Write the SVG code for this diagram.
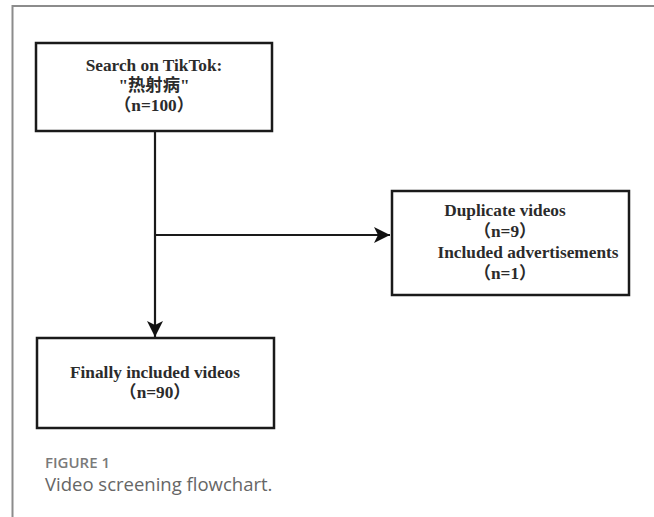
<svg xmlns="http://www.w3.org/2000/svg" width="654" height="517" viewBox="0 0 654 517">
<style>
.box{fill:#fff;stroke:#1a1a1a;stroke-width:2.5}
.t{font-family:"Liberation Serif","Noto Sans CJK SC",serif;font-weight:bold;font-size:17.3px;fill:#2b2b2b;text-anchor:middle}
.conn{stroke:#1a1a1a;stroke-width:2.2;fill:none}
.frame{stroke:#8c8c8c;stroke-width:2;fill:none}
</style>
<defs>
<marker id="ah" viewBox="0 0 16 16" refX="16" refY="8" markerWidth="16" markerHeight="16" markerUnits="userSpaceOnUse" orient="auto">
<path d="M0,0 L16,8 L0,16 L4,8 Z" fill="#111"/>
</marker>
</defs>
<rect width="654" height="517" fill="#fff"/>
<path class="frame" d="M12.5,517 V6 H654"/>
<g id="connectors">
<path class="conn" d="M155,131 V337" marker-end="url(#ah)"/>
<path class="conn" d="M155,235 H390" marker-end="url(#ah)"/>
</g>
<g id="search">
<rect class="box" x="36" y="43" width="236" height="88"/>
<text class="t" x="154" y="71">Search on TikTok:</text>
<text class="t" x="154" y="91">"热射病"</text>
<text class="t" x="154" y="111">（n=100）</text>
</g>
<g id="excluded">
<rect class="box" x="392" y="191" width="237" height="104"/>
<text class="t" x="505" y="216">Duplicate videos</text>
<text class="t" x="505" y="237">（n=9）</text>
<text class="t" x="528" y="258">Included advertisements</text>
<text class="t" x="505" y="279">（n=1）</text>
</g>
<g id="final">
<rect class="box" x="37" y="338" width="237" height="90"/>
<text class="t" x="155" y="378">Finally included videos</text>
<text class="t" x="155" y="398">（n=90）</text>
</g>
<g id="caption" font-family="'Open Sans','Noto Sans',sans-serif">
<text x="45" y="468" font-size="15" font-weight="600" fill="#7a7a7a">FIGURE 1</text>
<text x="45" y="491" font-size="18.5" fill="#666">Video screening flowchart.</text>
</g>
</svg>
